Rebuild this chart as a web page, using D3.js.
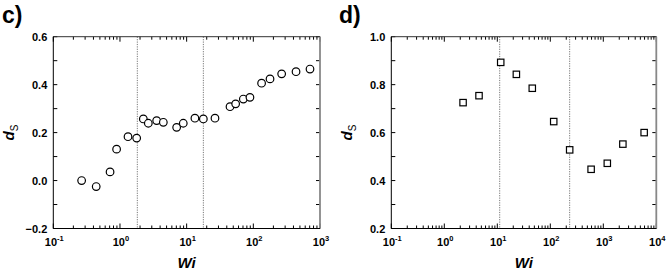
<!DOCTYPE html>
<html>
<head>
<meta charset="utf-8">
<script src="https://cdn.jsdelivr.net/npm/d3@7"></script>
<style>
body{margin:0;background:#fff;}
svg{display:block;font-family:"Liberation Sans",Arial,sans-serif;}
</style>
</head>
<body>
<svg id="chart" width="666" height="273"></svg>
<script>
// Panel c) circles
const wiC = [0.266,0.44,0.71,0.89,1.32,1.78,2.24,2.66,3.55,4.47,7.08,8.9,13.3,17.8,26.6,44.7,54.3,70.8,89,133,178,266,437,708];
const dsC = [0.0,-0.025,0.036,0.131,0.183,0.177,0.257,0.239,0.25,0.243,0.222,0.239,0.26,0.257,0.26,0.308,0.32,0.34,0.347,0.406,0.424,0.445,0.454,0.465];
const vlinesC = [1.82,17.8];
// Panel d) squares
const wiD = [2.26,4.52,11.6,22.9,45.7,116,232,589,1190,2340,5900];
const dsD = [0.725,0.754,0.893,0.843,0.785,0.646,0.528,0.447,0.472,0.552,0.6];
const vlinesD = [11.1,232];

const yTicksC = [-0.2,0.0,0.2,0.4,0.6];
const yTicksD = [0.2,0.4,0.6,0.8,1.0];
const xExpC = [-1,0,1,2,3];
const xExpD = [-1,0,1,2,3,4];

const svg = d3.select("#chart");

function panel(o){
  const g = svg.append("g");
  const x = d3.scaleLog().domain(o.xdom).range([o.x0,o.x1]);
  const y = d3.scaleLinear().domain(o.ydom).range([o.y1,o.y0]);
  // minor x ticks
  const minors=[];
  for(let e=o.xExp[0]; e<o.xExp[o.xExp.length-1]; e++){
    for(let k=2;k<=9;k++) minors.push(k*Math.pow(10,e));
  }
  const majors = o.xExp.map(e=>Math.pow(10,e));
  // vertical dotted lines
  g.selectAll(".vl").data(o.vlines).join("line")
    .attr("x1",d=>x(d)).attr("x2",d=>x(d))
    .attr("y1",o.y0).attr("y2",o.y1)
    .attr("stroke","#777").attr("stroke-width",1).attr("stroke-dasharray","1.2,1.2");
  // x ticks bottom & top (inward)
  [[o.y1,-1],[o.y0,1]].forEach(([yy,dir])=>{
    g.selectAll(null).data(minors).join("line")
      .attr("x1",d=>x(d)).attr("x2",d=>x(d))
      .attr("y1",yy).attr("y2",yy+dir*3)
      .attr("stroke","#000").attr("stroke-width",1);
    g.selectAll(null).data(majors).join("line")
      .attr("x1",d=>x(d)).attr("x2",d=>x(d))
      .attr("y1",yy).attr("y2",yy+dir*5)
      .attr("stroke","#000").attr("stroke-width",1);
  });
  // y ticks every 0.1 left & right
  const step = 0.1;
  const yt = d3.range(o.ydom[0], o.ydom[1]+1e-9, step);
  [[o.x0,1],[o.x1,-1]].forEach(([xx,dir])=>{
    g.selectAll(null).data(yt).join("line")
      .attr("x1",xx).attr("x2",xx+dir*4)
      .attr("y1",d=>y(d)).attr("y2",d=>y(d))
      .attr("stroke","#000").attr("stroke-width",1);
  });
  // frame
  g.append("line").attr("x1",o.x0).attr("x2",o.x1).attr("y1",o.y0).attr("y2",o.y0).attr("stroke","#333").attr("stroke-width",1);
  g.append("line").attr("x1",o.x1).attr("x2",o.x1).attr("y1",o.y0).attr("y2",o.y1).attr("stroke","#888").attr("stroke-width",1.8);
  g.append("line").attr("x1",o.x0).attr("x2",o.x0).attr("y1",o.y0).attr("y2",o.y1).attr("stroke","#000").attr("stroke-width",1);
  g.append("line").attr("x1",o.x0).attr("x2",o.x1).attr("y1",o.y1).attr("y2",o.y1).attr("stroke","#000").attr("stroke-width",1.2);
  // y tick labels
  g.selectAll(null).data(o.yTicks).join("text")
    .attr("x",o.x0-6).attr("y",d=>y(d)+4)
    .attr("text-anchor","end").attr("font-size",11).attr("font-weight","bold")
    .text(d=>d3.format(".1f")(d));
  // x tick labels
  const xl = g.selectAll(null).data(o.xExp).join("text")
    .attr("x",d=>x(Math.pow(10,d))+1).attr("y",o.y1+17)
    .attr("text-anchor","middle").attr("font-size",11).attr("font-weight","bold");
  xl.append("tspan").text("10");
  xl.append("tspan").attr("font-size",7.5).attr("dy",-4.5).text(d=>d);
  // axis titles
  g.append("text").attr("x",(o.x0+o.x1)/2).attr("y",268)
    .attr("text-anchor","middle").attr("font-size",15).attr("font-weight","bold").attr("font-style","italic")
    .text("Wi");
  const yl = g.append("text")
    .attr("transform",`translate(${o.x0-39},${(o.y0+o.y1)/2}) rotate(-90)`)
    .attr("text-anchor","middle").attr("font-size",15).attr("font-weight","bold").attr("font-style","italic");
  yl.append("tspan").text("d");
  yl.append("tspan").attr("font-size",10).attr("dy",4).attr("font-style","normal").attr("font-weight","normal").text("S");
  // panel label
  g.append("text").attr("x",o.labelX).attr("y",23)
    .attr("font-size",23).attr("font-weight","bold").text(o.label);
  // marks
  const pts = o.xs.map((v,i)=>({x:v,y:o.ys[i]}));
  if(o.shape==="circle"){
    g.selectAll(null).data(pts).join("circle")
      .attr("cx",d=>x(d.x)).attr("cy",d=>y(d.y)).attr("r",3.8)
      .attr("fill","#fff").attr("stroke","#000").attr("stroke-width",1.2);
  } else {
    const s=6.4;
    g.selectAll(null).data(pts).join("rect")
      .attr("x",d=>x(d.x)-s/2).attr("y",d=>y(d.y)-s/2).attr("width",s).attr("height",s)
      .attr("fill","#fff").attr("stroke","#000").attr("stroke-width",1.2);
  }
}

panel({x0:53.3,x1:320,y0:36.7,y1:228.5,xdom:[0.1,1000],ydom:[-0.2,0.6],
  xExp:xExpC,yTicks:yTicksC,vlines:vlinesC,xs:wiC,ys:dsC,shape:"circle",label:"c)",labelX:2});
panel({x0:391.3,x1:656.3,y0:36.7,y1:228.5,xdom:[0.1,10000],ydom:[0.2,1.0],
  xExp:xExpD,yTicks:yTicksD,vlines:vlinesD,xs:wiD,ys:dsD,shape:"square",label:"d)",labelX:339});
</script>
</body>
</html>
